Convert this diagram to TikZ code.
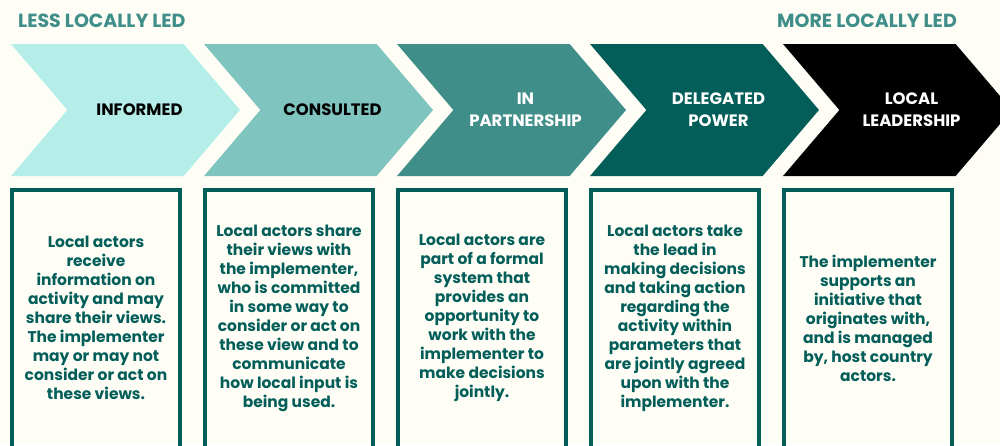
\documentclass[tikz,border=0pt]{standalone}
\usepackage{fontspec}
\setmainfont{Poppins}
\usetikzlibrary{positioning}
\usetikzlibrary{shapes.symbols}

\definecolor{pagebg}{HTML}{FEFEF6}
\definecolor{stepone}{HTML}{B5EEE9}
\definecolor{steptwo}{HTML}{80C4BF}
\definecolor{stepthree}{HTML}{3F8E89}
\definecolor{stepfour}{HTML}{035E59}
\definecolor{stepfive}{HTML}{000000}
\definecolor{titlecol}{HTML}{3F8E89}
\definecolor{boxcol}{HTML}{035E59}

\tikzset{
  chevron/.style={signal, signal from=west, signal to=east, signal pointer angle=99,
    minimum width=229pt, minimum height=132pt, inner sep=0pt, outer sep=0pt, draw=none},
  chevtext/.style={align=center, font=\bfseries\fontsize{16.5}{22}\selectfont},
  sidetitle/.style={text=titlecol, font=\bfseries\fontsize{19}{20}\selectfont, inner sep=0pt},
  descbox/.style={draw=boxcol, line width=4pt, minimum width=168pt, minimum height=280pt,
    inner sep=0pt, outer sep=0pt},
  desctext/.style={align=center, text=boxcol, font=\bfseries\fontsize{15.5}{19}\selectfont}
}

\begin{document}
\begin{tikzpicture}[x=1pt,y=-1pt]
   \fill[pagebg] (0,0) rectangle (1000,445);
   \useasboundingbox (0,0) rectangle (1000,445);
   \clip (0,0) rectangle (1000,445);

   % top labels
   \node[sidetitle, anchor=west] (less) at (18,21) {LESS LOCALLY LED};
   \node[sidetitle, anchor=east] (more) at (957,21) {MORE LOCALLY LED};

   % steps
   \node[chevron, fill=stepone]   (informed)    at (125.5,110) {};
   \node[chevron, fill=steptwo]   (consulted)   at (318.5,110) {};
   \node[chevron, fill=stepthree] (partnership) at (511.5,110) {};
   \node[chevron, fill=stepfour]  (delegated)   at (704.5,110) {};
   \node[chevron, fill=stepfive]  (leadership)  at (897.5,110) {};

   \node[chevtext, text=black] at ([xshift=14pt]informed.center)    {INFORMED};
   \node[chevtext, text=black] at ([xshift=14pt]consulted.center)   {CONSULTED};
   \node[chevtext, text=white] at ([xshift=14pt]partnership.center) {IN\\PARTNERSHIP};
   \node[chevtext, text=white] at ([xshift=14pt]delegated.center)   {DELEGATED\\POWER};
   \node[chevtext, text=white] at ([xshift=14pt]leadership.center)  {LOCAL\\LEADERSHIP};

   % descriptions
   \node[descbox] (b_informed)    at (96,330)  {};
   \node[descbox] (b_consulted)   at (289,330) {};
   \node[descbox] (b_partnership) at (482,330) {};
   \node[descbox] (b_delegated)   at (675,330) {};
   \node[descbox] (b_leadership)  at (868,330) {};

   \node[desctext] at ([yshift=12pt]b_informed.center)
     {Local actors\\receive\\information on\\activity and may\\share their views.\\The implementer\\may or may not\\consider or act on\\these views.};
   \node[desctext] at ([yshift=12pt]b_consulted.center)
     {Local actors share\\their views with\\the implementer,\\who is committed\\in some way to\\consider or act on\\these view and to\\communicate\\how local input is\\being used.};
   \node[desctext] at ([yshift=12pt]b_partnership.center)
     {Local actors are\\part of a formal\\system that\\provides an\\opportunity to\\work with the\\implementer to\\make decisions\\jointly.};
   \node[desctext] at ([yshift=12pt]b_delegated.center)
     {Local actors take\\the lead in\\making decisions\\and taking action\\regarding the\\activity within\\parameters that\\are jointly agreed\\upon with the\\implementer.};
   \node[desctext] at ([yshift=12pt]b_leadership.center)
     {The implementer\\supports an\\initiative that\\originates with,\\and is managed\\by, host country\\actors.};
\end{tikzpicture}
\end{document}
